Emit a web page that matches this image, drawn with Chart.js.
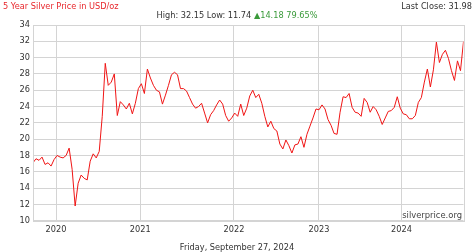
<!DOCTYPE html>
<html>
<head>
<meta charset="utf-8">
<script src="https://cdn.jsdelivr.net/npm/chart.js@4/dist/chart.umd.min.js"></script>
<style>
  html, body { margin: 0; padding: 0; background: #fff; }
  #wrap { position: relative; width: 474px; height: 252px; font-family: "DejaVu Sans", Verdana, sans-serif; font-size: 8.2px; color: #333; }
  #wrap canvas { position: absolute; left: 0; top: 0; }
  .txt { position: absolute; white-space: nowrap; line-height: 1; }
  #title { left: 3px; top: 2px; color: #e8262b; }
  #last { right: 2px; top: 2px; }
  #stats { left: 0; width: 474px; top: 11px; text-align: center; }
  #stats span { color: #3a9a3a; }
  #date { left: 0; width: 474px; top: 243px; text-align: center; }
  #site { right: 12px; top: 211px; color: #444; font-size: 8.4px; }
</style>
</head>
<body>
<div id="wrap">
  <canvas id="myChart" width="474" height="252"></canvas>
  <div class="txt" id="title">5 Year Silver Price in USD/oz</div>
  <div class="txt" id="last">Last Close: 31.98</div>
  <div class="txt" id="stats">High: 32.15 Low: 11.74 <span>&#9650;14.18 79.65%</span></div>
  <div class="txt" id="date">Friday, September 27, 2024</div>
  <div class="txt" id="site">silverprice.org</div>
</div>
<script>
// silver price readings, one every sample step (Sep 2019 -> Sep 2024)
var prices = [
  17.1, 17.6, 17.4, 17.8, 16.9, 17.1, 16.7, 17.5, 18.0, 17.8,
  17.7, 18.0, 18.9, 16.3, 11.8, 14.6, 15.6, 15.2, 15.0, 17.3,
  18.2, 17.7, 18.5, 22.8, 29.3, 26.6, 27.0, 28.0, 22.9, 24.6,
  24.2, 23.7, 24.4, 23.1, 24.4, 26.2, 26.8, 25.6, 28.6, 27.5,
  26.6, 26.0, 25.8, 24.3, 25.4, 26.6, 27.9, 28.2, 27.9, 26.2,
  26.2, 25.9, 25.1, 24.3, 23.8, 24.0, 24.4, 23.2, 22.0, 23.0,
  23.5, 24.2, 24.8, 24.3, 22.9, 22.2, 22.6, 23.2, 22.8, 24.3,
  22.9, 23.8, 25.3, 26.0, 25.1, 25.5, 24.4, 22.8, 21.5, 22.2,
  21.3, 21.0, 19.4, 18.8, 19.9, 19.2, 18.3, 19.3, 19.4, 20.3,
  19.0, 20.6, 21.6, 22.6, 23.7, 23.6, 24.2, 23.7, 22.4, 21.7,
  20.7, 20.6, 23.3, 25.2, 25.1, 25.6, 23.9, 23.3, 23.2, 22.8,
  25.0, 24.5, 23.3, 24.0, 23.6, 22.8, 21.8, 22.6, 23.4, 23.5,
  23.9, 25.2, 23.8, 23.1, 23.0, 22.5, 22.5, 22.9, 24.5, 25.1,
  27.0, 28.6, 26.4, 28.5, 31.9, 29.4, 30.4, 30.9, 29.9, 28.4,
  27.2, 29.6, 28.4, 31.98
];

// sample index where each year starts
var yearLabels = ["2020", "2021", "2022", "2023", "2024"];
var yearStarts = [7.64, 35.63, 66.75, 94.98, 122.41];

var gridColor = '#d4d4d4';

var boxPlugin = {
  id: 'box',
  afterDraw: function(chart) {
    var a = chart.chartArea, c = chart.ctx;
    c.save();
    c.strokeStyle = gridColor;
    c.lineWidth = 1;
    c.strokeRect(Math.round(a.left) + 0.5, Math.round(a.top) + 0.5, Math.round(a.right - a.left), Math.round(a.bottom - a.top));
    c.restore();
  }
};

var ctx = document.getElementById('myChart').getContext('2d');
var chart = new Chart(ctx, {
  type: 'line',
  data: {
    datasets: [{
      label: "Silver",
      data: prices.map(function(p, i) { return { x: i, y: p }; }),
      borderColor: '#f01515',
      borderWidth: 1,
      pointRadius: 0,
      tension: 0,
      fill: false
    }]
  },
  options: {
    responsive: false,
    animation: false,
    layout: { padding: { top: 25, right: 10.5, left: 0, bottom: 0 } },
    plugins: { legend: { display: false }, tooltip: { enabled: false } },
    scales: {
      x: {
        type: 'linear',
        min: 0,
        max: prices.length - 1,
        afterBuildTicks: function(scale) {
          scale.ticks = yearStarts.map(function(v) { return { value: v }; });
        },
        afterFit: function(scale) { scale.height = 31.3; },
        ticks: {
          autoSkip: false,
          maxRotation: 0,
          padding: 4,
          color: '#333',
          font: { family: 'DejaVu Sans', size: 8.2 },
          callback: function(value) {
            var k = yearStarts.indexOf(value);
            return k >= 0 ? yearLabels[k] : '';
          }
        },
        grid: { color: gridColor, drawTicks: false },
        border: { display: false }
      },
      y: {
        min: 10,
        max: 34,
        afterFit: function(scale) { scale.width = 33; },
        ticks: {
          stepSize: 2,
          padding: 3,
          color: '#333',
          font: { family: 'DejaVu Sans', size: 8.2 }
        },
        grid: { color: gridColor, drawTicks: false },
        border: { display: false }
      }
    }
  },
  plugins: [boxPlugin]
});
</script>
</body>
</html>
